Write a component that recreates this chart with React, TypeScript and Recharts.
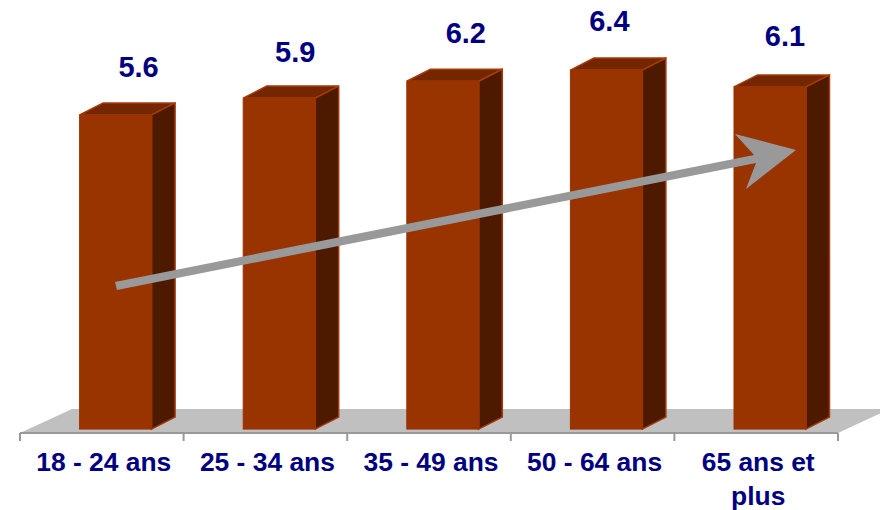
import { BarChart, Bar, XAxis, YAxis, LabelList, Customized } from "recharts";

const categories = ["18 - 24 ans", "25 - 34 ans", "35 - 49 ans", "50 - 64 ans", "65 ans et\nplus"];
const values = [5.6, 5.9, 6.2, 6.4, 6.1];

// hand placed value labels, relative to the bar's front face
const labelNudgeX = [23, 16, 23, 3, 15];
const labelNudgeY = [-48, -46, -48, -49, -51];

const NAVY = "#000080";
const FONT = '"Liberation Sans", Arial, sans-serif';
const AXIS_GREY = "#999999";
const BAND = 163.6;
const DEPTH_X = 23.5;
const DEPTH_Y = 12;
const BAR_SHIFT = 13.6;

const rows = categories.map((name, i) => ({ name, value: values[i] }));

// 3D box: front face plus top and right side
function Box3D({ x, y, width, height }: any) {
  const l = x + BAR_SHIFT;
  const r = l + width;
  const b = y + height;
  const edge = "#a83c08";
  return (
    <g>
      <polygon
        points={`${l},${y} ${l + DEPTH_X},${y - DEPTH_Y} ${r + DEPTH_X},${y - DEPTH_Y} ${r},${y}`}
        fill="#732600"
        stroke={edge}
        strokeWidth={1.5}
      />
      <polygon
        points={`${r},${y} ${r + DEPTH_X},${y - DEPTH_Y} ${r + DEPTH_X},${b - DEPTH_Y} ${r},${b}`}
        fill="#4d1a00"
        stroke={edge}
        strokeWidth={1.5}
      />
      <rect x={l} y={y} width={width} height={height} fill="#993300" stroke="#993300" strokeWidth={1} />
    </g>
  );
}

function Floor() {
  return <polygon points="20,433 72,409 890,409 838,433" fill="#c0c0c0" />;
}

function CategoryTick({ x, y, index, payload }: any) {
  const lines = String(payload.value).split("\n");
  const left = x - BAND / 2;
  const right = x + BAND / 2;
  return (
    <g>
      <line x1={left} x2={left} y1={y - 8} y2={y} stroke={AXIS_GREY} strokeWidth={2} />
      {index === categories.length - 1 && (
        <line x1={right} x2={right} y1={y - 8} y2={y} stroke={AXIS_GREY} strokeWidth={2} />
      )}
      {lines.map((line, i) => (
        <text
          key={line}
          x={x + 2}
          y={y + 30 + i * 34}
          textAnchor="middle"
          fontFamily={FONT}
          fontWeight="bold"
          fontSize={26.4}
          fill={NAVY}
        >
          {line}
        </text>
      ))}
    </g>
  );
}

function ValueLabel({ x, y, width, value, index }: any) {
  return (
    <text
      x={x + BAR_SHIFT + width / 2 + labelNudgeX[index]}
      y={y + labelNudgeY[index] + 10}
      textAnchor="middle"
      fontFamily={FONT}
      fontWeight="bold"
      fontSize={29}
      fill={NAVY}
    >
      {Number(value).toFixed(1)}
    </text>
  );
}

export default function App() {
  return (
    <div style={{ position: "absolute", left: 0, top: 0, width: 880, height: 510 }}>
      <BarChart
        width={880}
        height={510}
        data={rows}
        barSize={72}
        margin={{ top: 36.4, right: 42, bottom: 0, left: 20 }}
      >
        <Customized component={Floor} />
        <XAxis
          dataKey="name"
          height={77}
          interval={0}
          axisLine={{ stroke: AXIS_GREY, strokeWidth: 2 }}
          tickLine={false}
          tick={<CategoryTick />}
        />
        <YAxis hide type="number" domain={[-0.07, 7]} allowDataOverflow />
        <Bar dataKey="value" shape={<Box3D />} isAnimationActive={false}>
          <LabelList dataKey="value" content={<ValueLabel />} />
        </Bar>
      </BarChart>
      {/* trend arrow sits on top of the bars */}
      <svg width={880} height={510} style={{ position: "absolute", left: 0, top: 0 }}>
        <polygon points="115,282 754,155 735,134 796,150 746,189 756,163 117,290" fill="#999999" />
      </svg>
    </div>
  );
}
